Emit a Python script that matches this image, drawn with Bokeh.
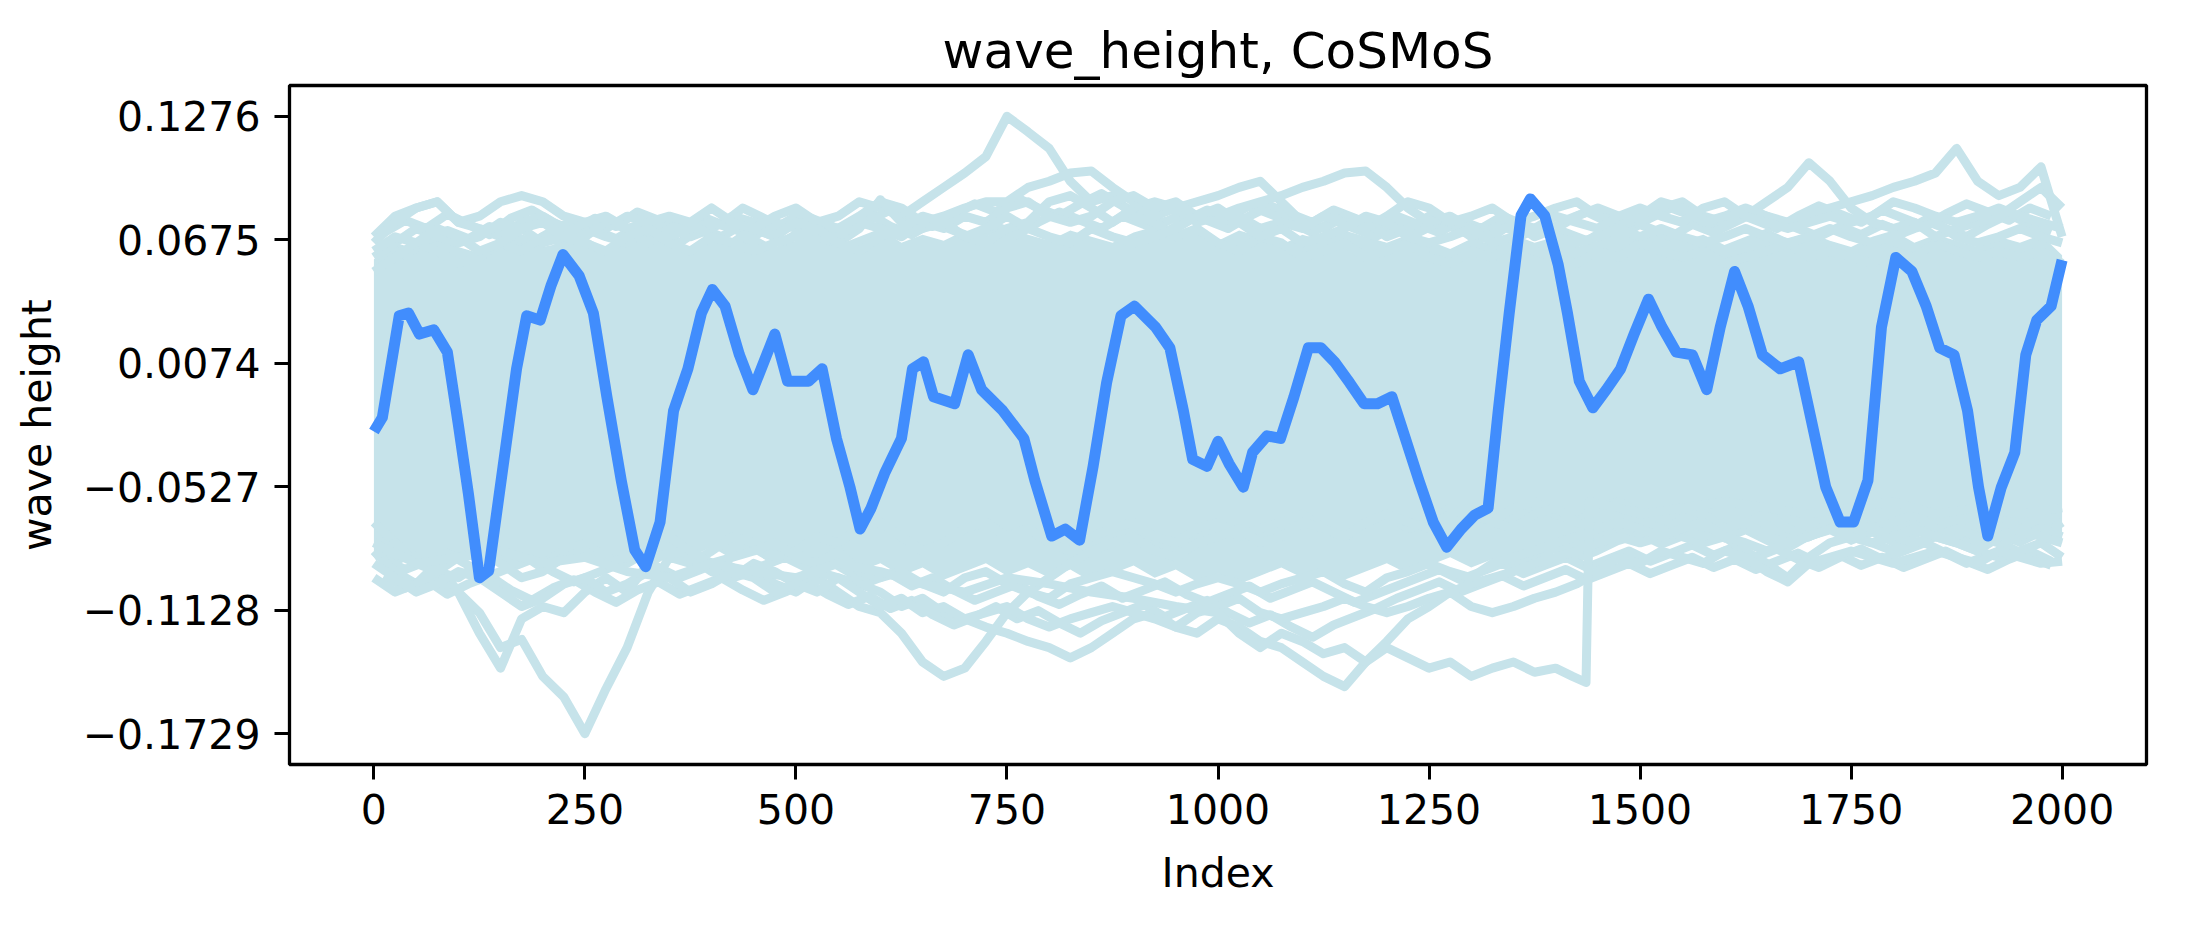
from bokeh.plotting import figure
from bokeh.models import Range1d, FixedTicker, CustomJSTickFormatter
from bokeh.embed import file_html
from bokeh.resources import INLINE

# ---- data ----
title_text = "wave_height, CoSMoS"
x_label = "Index"
y_label = "wave height"
xtick_vals = [0, 250, 500, 750, 1000, 1250, 1500, 1750, 2000]
ytick_vals = [-0.1729, -0.1128, -0.0527, 0.0074, 0.0675, 0.1276]

# highlighted member
blue_idx = [0, 10, 30, 41, 54, 71, 87, 100, 112, 125,
            136, 153, 169, 181, 197, 210, 224, 243, 260, 276,
            293, 309, 322, 339, 355, 372, 388, 401, 416, 433,
            449, 475, 490, 515, 531, 548, 564, 576, 589, 605,
            625, 638, 651, 663, 688, 704, 720, 745, 770, 783,
            803, 819, 836, 852, 868, 885, 901, 926, 943, 959,
            970, 987, 1000, 1013, 1030, 1041, 1058, 1074, 1090, 1107,
            1122, 1138, 1156, 1173, 1189, 1206, 1222, 1238, 1255, 1271,
            1288, 1304, 1320, 1332, 1345, 1359, 1370, 1387, 1403, 1414,
            1428, 1444, 1460, 1477, 1493, 1510, 1526, 1543, 1562, 1579,
            1595, 1612, 1628, 1645, 1666, 1688, 1704, 1720, 1737, 1753,
            1770, 1786, 1803, 1822, 1839, 1855, 1872, 1888, 1901, 1912,
            1928, 1944, 1957, 1970, 1987, 2000]
blue_val = [-0.0258, -0.0190, 0.0305, 0.0318, 0.0216, 0.0237, 0.0128, -0.0224, -0.0563, -0.0970,
            -0.0936, -0.0428, 0.0047, 0.0305, 0.0284, 0.0454, 0.0603, 0.0501, 0.0318, -0.0089,
            -0.0496, -0.0835, -0.0916, -0.0699, -0.0157, 0.0047, 0.0318, 0.0433, 0.0352, 0.0115,
            -0.0055, 0.0216, -0.0013, -0.0013, 0.0047, -0.0292, -0.0529, -0.0733, -0.0631, -0.0462,
            -0.0292, 0.0047, 0.0081, -0.0089, -0.0123, 0.0115, -0.0055, -0.0157, -0.0292, -0.0496,
            -0.0767, -0.0733, -0.0787, -0.0428, -0.0021, 0.0305, 0.0352, 0.0250, 0.0149, -0.0157,
            -0.0394, -0.0428, -0.0306, -0.0414, -0.0529, -0.0360, -0.0279, -0.0292, -0.0089, 0.0149,
            0.0149, 0.0081, -0.0021, -0.0123, -0.0123, -0.0089, -0.0292, -0.0496, -0.0699, -0.0821,
            -0.0733, -0.0665, -0.0631, -0.0157, 0.0318, 0.0793, 0.0874, 0.0793, 0.0555, 0.0318,
            -0.0013, -0.0143, -0.0055, 0.0047, 0.0216, 0.0386, 0.0250, 0.0128, 0.0115, -0.0055,
            0.0250, 0.0521, 0.0352, 0.0115, 0.0047, 0.0081, -0.0224, -0.0529, -0.0699, -0.0699,
            -0.0496, 0.0250, 0.0589, 0.0521, 0.0352, 0.0149, 0.0115, -0.0157, -0.0529, -0.0767,
            -0.0529, -0.0360, 0.0115, 0.0284, 0.0352, 0.0576]

# ensemble: dense core, every 25 steps
core_idx = list(range(0, 2001, 25))
core_top = [0.058, 0.066, 0.063, 0.069, 0.064, 0.061, 0.067, 0.070, 0.064, 0.066,
            0.069, 0.063, 0.067, 0.071, 0.065, 0.062, 0.068, 0.066, 0.070, 0.064,
            0.067, 0.071, 0.065, 0.069, 0.073, 0.066, 0.070, 0.067, 0.072, 0.069,
            0.074, 0.070, 0.067, 0.072, 0.069, 0.066, 0.071, 0.074, 0.068, 0.071,
            0.067, 0.072, 0.069, 0.065, 0.070, 0.067, 0.072, 0.069, 0.066, 0.070,
            0.067, 0.063, 0.068, 0.065, 0.070, 0.066, 0.069, 0.064, 0.067, 0.071,
            0.068, 0.072, 0.067, 0.070, 0.065, 0.069, 0.073, 0.068, 0.071, 0.067,
            0.064, 0.069, 0.072, 0.066, 0.070, 0.067, 0.064, 0.069, 0.066, 0.070,
            0.060]
core_bot = [-0.084, -0.091, -0.087, -0.094, -0.089, -0.085, -0.092, -0.088, -0.095, -0.090,
            -0.086, -0.093, -0.089, -0.084, -0.090, -0.087, -0.082, -0.088, -0.085, -0.091,
            -0.087, -0.092, -0.088, -0.094, -0.090, -0.096, -0.092, -0.098, -0.094, -0.090,
            -0.096, -0.092, -0.097, -0.093, -0.099, -0.095, -0.091, -0.097, -0.093, -0.099,
            -0.095, -0.100, -0.096, -0.092, -0.097, -0.093, -0.098, -0.094, -0.090, -0.095,
            -0.091, -0.087, -0.092, -0.088, -0.093, -0.089, -0.085, -0.090, -0.086, -0.081,
            -0.078, -0.083, -0.079, -0.075, -0.080, -0.076, -0.081, -0.085, -0.079, -0.076,
            -0.081, -0.077, -0.082, -0.078, -0.074, -0.079, -0.083, -0.078, -0.082, -0.077,
            -0.080]

# ensemble: edge members, every 25 steps
member_idx = list(range(0, 2001, 25))
member_u1 = [0.052, 0.059, 0.066, 0.062, 0.056, 0.059, 0.066, 0.062, 0.069, 0.066,
             0.073, 0.069, 0.066, 0.073, 0.076, 0.069, 0.073, 0.079, 0.076, 0.073,
             0.079, 0.076, 0.079, 0.086, 0.083, 0.079, 0.086, 0.093, 0.100, 0.108,
             0.1276, 0.120, 0.112, 0.096, 0.086, 0.089, 0.079, 0.076, 0.069, 0.073,
             0.066, 0.062, 0.069, 0.066, 0.059, 0.062, 0.066, 0.059, 0.062, 0.066,
             0.059, 0.056, 0.062, 0.059, 0.066, 0.062, 0.059, 0.056, 0.062, 0.059,
             0.066, 0.062, 0.059, 0.062, 0.056, 0.059, 0.062, 0.066, 0.059, 0.062,
             0.059, 0.056, 0.062, 0.059, 0.066, 0.062, 0.059, 0.062, 0.059, 0.062,
             0.056]
member_u2 = [0.069, 0.079, 0.083, 0.086, 0.076, 0.079, 0.086, 0.089, 0.086, 0.079,
             0.076, 0.073, 0.079, 0.076, 0.069, 0.073, 0.076, 0.073, 0.069, 0.076,
             0.073, 0.069, 0.066, 0.073, 0.087, 0.076, 0.073, 0.076, 0.069, 0.066,
             0.073, 0.076, 0.086, 0.089, 0.083, 0.076, 0.083, 0.086, 0.083, 0.086,
             0.089, 0.093, 0.096, 0.086, 0.076, 0.073, 0.079, 0.076, 0.069, 0.073,
             0.079, 0.076, 0.069, 0.073, 0.076, 0.069, 0.073, 0.079, 0.083, 0.079,
             0.076, 0.083, 0.086, 0.079, 0.076, 0.079, 0.086, 0.093, 0.105, 0.096,
             0.083, 0.076, 0.073, 0.076, 0.069, 0.073, 0.076, 0.079, 0.086, 0.093,
             0.083]
member_u3 = [0.066, 0.076, 0.083, 0.086, 0.076, 0.073, 0.069, 0.076, 0.079, 0.073,
             0.069, 0.076, 0.073, 0.066, 0.073, 0.076, 0.069, 0.066, 0.073, 0.069,
             0.076, 0.073, 0.069, 0.076, 0.073, 0.069, 0.076, 0.079, 0.083, 0.086,
             0.086, 0.093, 0.096, 0.100, 0.101, 0.093, 0.086, 0.079, 0.083, 0.076,
             0.079, 0.083, 0.086, 0.089, 0.093, 0.096, 0.100, 0.101, 0.093, 0.083,
             0.076, 0.079, 0.073, 0.069, 0.076, 0.079, 0.083, 0.086, 0.079, 0.076,
             0.079, 0.086, 0.083, 0.076, 0.079, 0.083, 0.079, 0.076, 0.079, 0.083,
             0.086, 0.089, 0.093, 0.096, 0.100, 0.112, 0.096, 0.089, 0.093, 0.103,
             0.069]
member_u4 = [0.059, 0.066, 0.073, 0.069, 0.066, 0.069, 0.076, 0.073, 0.066, 0.069,
             0.076, 0.079, 0.073, 0.076, 0.079, 0.076, 0.083, 0.076, 0.073, 0.079,
             0.083, 0.076, 0.073, 0.079, 0.086, 0.083, 0.076, 0.073, 0.079, 0.076,
             0.083, 0.086, 0.079, 0.076, 0.079, 0.086, 0.089, 0.083, 0.086, 0.079,
             0.076, 0.079, 0.073, 0.076, 0.073, 0.079, 0.076, 0.073, 0.079, 0.086,
             0.083, 0.076, 0.079, 0.083, 0.076, 0.073, 0.079, 0.076, 0.073, 0.079,
             0.083, 0.079, 0.076, 0.083, 0.086, 0.079, 0.076, 0.073, 0.076, 0.079,
             0.076, 0.079, 0.086, 0.083, 0.079, 0.076, 0.079, 0.083, 0.079, 0.076,
             0.073]
member_u5 = [0.062, 0.069, 0.066, 0.073, 0.069, 0.062, 0.066, 0.073, 0.076, 0.069,
             0.066, 0.062, 0.069, 0.073, 0.066, 0.062, 0.069, 0.066, 0.062, 0.066,
             0.069, 0.073, 0.066, 0.062, 0.069, 0.073, 0.079, 0.076, 0.069, 0.073,
             0.079, 0.073, 0.069, 0.066, 0.073, 0.069, 0.066, 0.069, 0.073, 0.079,
             0.083, 0.076, 0.069, 0.073, 0.066, 0.069, 0.073, 0.079, 0.076, 0.069,
             0.066, 0.069, 0.073, 0.066, 0.069, 0.073, 0.069, 0.066, 0.069, 0.073,
             0.069, 0.073, 0.069, 0.066, 0.069, 0.073, 0.069, 0.066, 0.069, 0.073,
             0.069, 0.066, 0.069, 0.073, 0.076, 0.069, 0.066, 0.069, 0.073, 0.069,
             0.066]
member_l1 = [-0.070, -0.080, -0.087, -0.097, -0.104, -0.114, -0.131, -0.127, -0.145, -0.155,
             -0.1729, -0.151, -0.131, -0.104, -0.087, -0.090, -0.084, -0.077, -0.080, -0.087,
             -0.084, -0.077, -0.080, -0.073, -0.070, -0.077, -0.084, -0.080, -0.073, -0.070,
             -0.077, -0.073, -0.080, -0.084, -0.077, -0.073, -0.070, -0.077, -0.080, -0.073,
             -0.070, -0.077, -0.073, -0.070, -0.066, -0.073, -0.077, -0.070, -0.066, -0.073,
             -0.070, -0.063, -0.066, -0.070, -0.063, -0.060, -0.066, -0.070, -0.063, -0.060,
             -0.066, -0.070, -0.063, -0.066, -0.073, -0.070, -0.066, -0.073, -0.077, -0.070,
             -0.066, -0.073, -0.070, -0.066, -0.073, -0.077, -0.070, -0.066, -0.073, -0.077,
             -0.070]
member_l2 = [-0.084, -0.094, -0.100, -0.090, -0.104, -0.124, -0.141, -0.117, -0.111, -0.114,
             -0.104, -0.097, -0.104, -0.090, -0.084, -0.087, -0.090, -0.097, -0.094, -0.100,
             -0.104, -0.097, -0.104, -0.111, -0.114, -0.124, -0.138, -0.145, -0.141, -0.128,
             -0.114, -0.104, -0.097, -0.090, -0.084, -0.080, -0.077, -0.084, -0.087, -0.080,
             -0.077, -0.073, -0.080, -0.077, -0.070, -0.073, -0.077, -0.070, -0.066, -0.070,
             -0.073, -0.066, -0.063, -0.070, -0.073, -0.066, -0.063, -0.070, -0.073, -0.077,
             -0.070, -0.073, -0.077, -0.080, -0.077, -0.084, -0.090, -0.097, -0.087, -0.080,
             -0.077, -0.080, -0.084, -0.080, -0.077, -0.080, -0.084, -0.087, -0.084, -0.080,
             -0.087]
member_l3 = [-0.097, -0.104, -0.100, -0.094, -0.097, -0.090, -0.084, -0.087, -0.090, -0.084,
             -0.080, -0.087, -0.090, -0.084, -0.080, -0.087, -0.094, -0.097, -0.090, -0.094,
             -0.100, -0.104, -0.097, -0.100, -0.104, -0.111, -0.107, -0.114, -0.117, -0.121,
             -0.124, -0.128, -0.131, -0.136, -0.131, -0.124, -0.117, -0.114, -0.121, -0.124,
             -0.117, -0.121, -0.128, -0.131, -0.138, -0.145, -0.150, -0.138, -0.128, -0.117,
             -0.111, -0.104, -0.100, -0.097, -0.094, -0.090, -0.087, -0.084, -0.080, -0.077,
             -0.080, -0.077, -0.073, -0.077, -0.073, -0.070, -0.077, -0.080, -0.077, -0.073,
             -0.070, -0.073, -0.077, -0.080, -0.077, -0.073, -0.077, -0.080, -0.077, -0.073,
             -0.077]
member_l5 = [-0.090, -0.097, -0.104, -0.100, -0.094, -0.097, -0.104, -0.111, -0.107, -0.100,
             -0.097, -0.104, -0.100, -0.094, -0.097, -0.104, -0.100, -0.094, -0.097, -0.104,
             -0.100, -0.094, -0.097, -0.104, -0.111, -0.107, -0.114, -0.111, -0.117, -0.114,
             -0.111, -0.117, -0.121, -0.117, -0.114, -0.111, -0.114, -0.117, -0.121, -0.114,
             -0.111, -0.107, -0.114, -0.117, -0.114, -0.111, -0.107, -0.111, -0.114, -0.111,
             -0.107, -0.104, -0.111, -0.114, -0.111, -0.107, -0.104, -0.100, -0.094, -0.087,
             -0.090, -0.084, -0.087, -0.090, -0.084, -0.087, -0.094, -0.099, -0.090, -0.087,
             -0.084, -0.087, -0.090, -0.087, -0.084, -0.087, -0.090, -0.084, -0.087, -0.090,
             -0.089]
member_l6 = [-0.087, -0.080, -0.090, -0.094, -0.087, -0.084, -0.090, -0.097, -0.094, -0.087,
             -0.084, -0.090, -0.087, -0.080, -0.077, -0.084, -0.090, -0.087, -0.084, -0.080,
             -0.087, -0.090, -0.084, -0.094, -0.097, -0.094, -0.100, -0.104, -0.097, -0.094,
             -0.100, -0.104, -0.107, -0.100, -0.097, -0.094, -0.097, -0.100, -0.104, -0.100,
             -0.097, -0.100, -0.104, -0.100, -0.097, -0.094, -0.100, -0.104, -0.097, -0.094,
             -0.090, -0.094, -0.097, -0.090, -0.087, -0.084, -0.080, -0.077, -0.073, -0.070,
             -0.073, -0.077, -0.073, -0.070, -0.077, -0.080, -0.084, -0.080, -0.077, -0.073,
             -0.077, -0.080, -0.077, -0.073, -0.077, -0.080, -0.084, -0.077, -0.073, -0.077,
             -0.080]

# members sampled half a step later (12, 37, ... 1987)
offset_idx = list(range(12, 2000, 25))
member_o1 = [0.071, 0.077, 0.073, 0.080, 0.075, 0.070, 0.078, 0.082, 0.076, 0.072,
             0.078, 0.074, 0.081, 0.077, 0.072, 0.079, 0.075, 0.083, 0.078, 0.073,
             0.079, 0.075, 0.071, 0.077, 0.082, 0.078, 0.074, 0.080, 0.085, 0.081,
             0.088, 0.083, 0.079, 0.085, 0.090, 0.084, 0.079, 0.076, 0.081, 0.077,
             0.073, 0.079, 0.084, 0.080, 0.076, 0.082, 0.078, 0.074, 0.079, 0.075,
             0.071, 0.077, 0.073, 0.079, 0.075, 0.071, 0.077, 0.081, 0.076, 0.072,
             0.078, 0.083, 0.079, 0.075, 0.081, 0.077, 0.073, 0.079, 0.084, 0.080,
             0.076, 0.082, 0.078, 0.074, 0.080, 0.085, 0.081, 0.077, 0.083, 0.079]
member_o2 = [0.065, 0.060, 0.067, 0.072, 0.068, 0.074, 0.070, 0.066, 0.072, 0.077,
             0.072, 0.068, 0.074, 0.070, 0.066, 0.073, 0.069, 0.075, 0.071, 0.067,
             0.073, 0.069, 0.075, 0.080, 0.074, 0.070, 0.076, 0.072, 0.068, 0.074,
             0.070, 0.076, 0.081, 0.077, 0.073, 0.079, 0.075, 0.071, 0.077, 0.082,
             0.078, 0.084, 0.080, 0.076, 0.071, 0.077, 0.073, 0.069, 0.075, 0.071,
             0.076, 0.072, 0.068, 0.074, 0.070, 0.075, 0.071, 0.067, 0.073, 0.077,
             0.073, 0.069, 0.075, 0.071, 0.076, 0.081, 0.077, 0.073, 0.069, 0.074,
             0.070, 0.075, 0.071, 0.077, 0.073, 0.069, 0.075, 0.080, 0.075, 0.071]
member_o3 = [-0.096, -0.102, -0.098, -0.105, -0.100, -0.096, -0.103, -0.108, -0.102, -0.098,
             -0.104, -0.109, -0.103, -0.099, -0.105, -0.101, -0.097, -0.103, -0.108, -0.104,
             -0.099, -0.105, -0.110, -0.106, -0.112, -0.108, -0.115, -0.120, -0.116, -0.111,
             -0.117, -0.113, -0.119, -0.124, -0.118, -0.114, -0.110, -0.116, -0.112, -0.108,
             -0.114, -0.119, -0.115, -0.121, -0.126, -0.120, -0.116, -0.112, -0.107, -0.103,
             -0.099, -0.104, -0.100, -0.096, -0.101, -0.097, -0.093, -0.098, -0.094, -0.090,
             -0.095, -0.091, -0.087, -0.092, -0.088, -0.093, -0.089, -0.085, -0.090, -0.086,
             -0.091, -0.087, -0.092, -0.088, -0.084, -0.089, -0.093, -0.088, -0.084, -0.089]
member_o4 = [-0.088, -0.093, -0.089, -0.085, -0.091, -0.096, -0.092, -0.088, -0.094, -0.099,
             -0.095, -0.091, -0.086, -0.092, -0.097, -0.093, -0.089, -0.095, -0.091, -0.087,
             -0.092, -0.088, -0.094, -0.099, -0.095, -0.101, -0.097, -0.103, -0.108, -0.104,
             -0.100, -0.106, -0.110, -0.105, -0.101, -0.107, -0.103, -0.099, -0.105, -0.109,
             -0.105, -0.101, -0.107, -0.103, -0.099, -0.104, -0.109, -0.105, -0.101, -0.097,
             -0.093, -0.098, -0.094, -0.090, -0.095, -0.091, -0.087, -0.092, -0.088, -0.084,
             -0.089, -0.085, -0.081, -0.086, -0.082, -0.087, -0.083, -0.088, -0.092, -0.087,
             -0.083, -0.088, -0.084, -0.080, -0.085, -0.090, -0.086, -0.082, -0.087, -0.091]

# member with the jump near index 1440
jump_idx = [0, 50, 100, 150, 200, 250, 300, 350, 400, 450,
            500, 550, 600, 650, 700, 750, 800, 850, 900, 950,
            1000, 1025, 1050, 1075, 1100, 1125, 1150, 1175, 1200, 1225,
            1250, 1275, 1300, 1325, 1350, 1375, 1400, 1420, 1436, 1440,
            1475, 1500, 1550, 1600, 1650, 1700, 1750, 1800, 1850, 1900,
            1950, 2000]
jump_val = [-0.080, -0.090, -0.087, -0.084, -0.090, -0.087, -0.094, -0.097, -0.090, -0.094,
            -0.097, -0.090, -0.094, -0.100, -0.104, -0.097, -0.100, -0.104, -0.107, -0.111,
            -0.114, -0.124, -0.131, -0.124, -0.128, -0.134, -0.131, -0.138, -0.131, -0.136,
            -0.141, -0.138, -0.145, -0.141, -0.138, -0.143, -0.141, -0.145, -0.148, -0.060,
            -0.063, -0.066, -0.063, -0.060, -0.063, -0.066, -0.063, -0.060, -0.066, -0.063,
            -0.066, -0.063]

members = [member_u1, member_u2, member_u3, member_u4, member_u5,
           member_l1, member_l2, member_l3, member_l5, member_l6]
offset_members = [member_o1, member_o2, member_o3, member_o4]

ens_color = "#c6e3ea"
main_color = "#418dfd"
font = "DejaVu Sans"

p = figure(width=2170, height=912, output_backend="svg", toolbar_location=None,
           x_range=Range1d(-100, 2100), y_range=Range1d(-0.1879, 0.1426),
           title=title_text)
p.min_border_left = 289
p.min_border_right = 24
p.min_border_top = 85
p.min_border_bottom = 148

p.varea(x=core_idx, y1=core_bot, y2=core_top, fill_color=ens_color)
for m in offset_members:
    p.line(offset_idx, m, line_color=ens_color, line_width=9, line_join="round")
for m in members:
    p.line(member_idx, m, line_color=ens_color, line_width=9, line_join="round")
p.line(jump_idx, jump_val, line_color=ens_color, line_width=9, line_join="round")
p.line(blue_idx, blue_val, line_color=main_color, line_width=11, line_join="round")

p.title.text_font = font
p.title.text_font_size = "50px"
p.title.text_font_style = "normal"
p.title.text_color = "black"
p.title.align = "center"
p.title.standoff = 12

p.xaxis.axis_label = x_label
p.yaxis.axis_label = y_label
p.xaxis.ticker = FixedTicker(ticks=xtick_vals)
p.yaxis.ticker = FixedTicker(ticks=ytick_vals)
p.yaxis.formatter = CustomJSTickFormatter(code="""
    const s = Math.abs(tick).toFixed(4);
    return tick < 0 ? "\u2212" + s : s;
""")
for ax in (p.xaxis, p.yaxis):
    ax.axis_label_text_font = font
    ax.axis_label_text_font_size = "41px"
    ax.axis_label_text_font_style = "normal"
    ax.axis_label_text_color = "black"
    ax.major_label_text_font = font
    ax.major_label_text_font_size = "41px"
    ax.major_label_text_color = "black"
    ax.axis_line_color = None
    ax.major_tick_line_color = "black"
    ax.major_tick_line_width = 3
    ax.major_tick_out = 15
    ax.major_tick_in = 0
    ax.minor_tick_line_color = None
    ax.major_label_standoff = 14
p.xaxis.axis_label_standoff = 22
p.yaxis.axis_label_standoff = 19

p.xgrid.grid_line_color = None
p.ygrid.grid_line_color = None
p.outline_line_color = "black"
p.outline_line_width = 3.3
p.outline_line_alpha = 1.0

open("out.html", "w").write(file_html(p, INLINE))
